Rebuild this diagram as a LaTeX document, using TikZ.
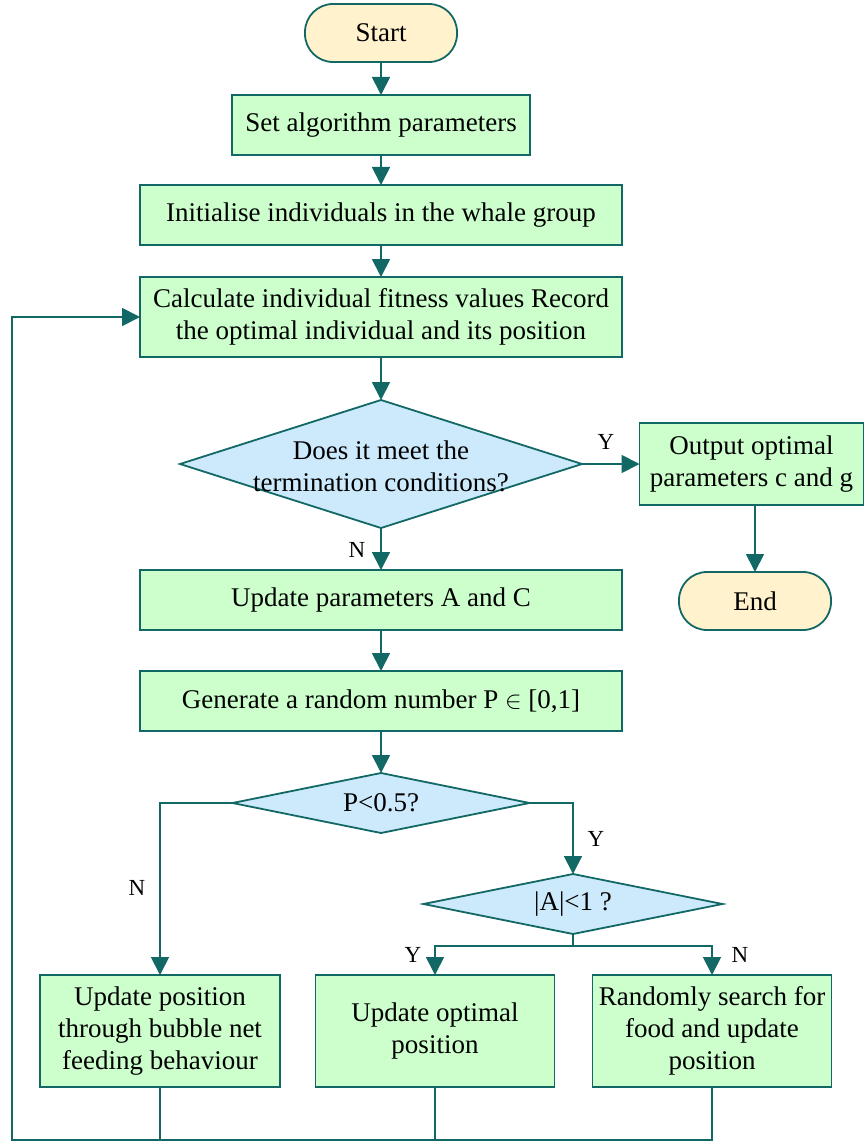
\documentclass[tikz,border=0pt]{standalone}
\usepackage{fontspec}
\setmainfont{Liberation Serif}
\usetikzlibrary{shapes.geometric,arrows.meta}
\definecolor{teal1}{RGB}{18,104,100}
\definecolor{boxgreen}{RGB}{204,255,204}
\definecolor{diablue}{RGB}{204,234,252}
\definecolor{termbeige}{RGB}{255,242,204}
\tikzset{
  base/.style={draw=teal1, line width=1.8pt, inner sep=0pt, outer sep=0pt, align=center, font=\fontsize{27}{32}\selectfont},
  procbox/.style={base, rectangle, fill=boxgreen},
  term/.style={base, rectangle, rounded corners=28pt, fill=termbeige, minimum width=152pt, minimum height=58pt},
  decide/.style={base, diamond, fill=diablue},
  dtext/.style={inner sep=0pt, align=center, font=\fontsize{27}{32}\selectfont},
  conn/.style={draw=teal1, line width=1.8pt},
  thin/.style={draw=teal1, line width=1.4pt},
  arr/.style={conn, -{Triangle[length=18pt,width=18pt]}},
  yn/.style={font=\fontsize{23}{26}\selectfont, inner sep=1pt}
}
\begin{document}
\begin{tikzpicture}[x=1pt,y=-1pt]
\useasboundingbox (0,0) rectangle (865,1142);
% nodes
\node[term] (start) at (381,33) {Start};
\node[procbox, minimum width=298pt, minimum height=60pt] (set) at (381,125) {Set algorithm parameters};
\node[procbox, minimum width=482pt, minimum height=60pt] (init) at (381,215) {Initialise individuals in the whale group};
\node[procbox, minimum width=482pt, minimum height=80pt] (calc) at (381,317) {Calculate individual fitness values Record\\the optimal individual and its position};
\node[decide, minimum width=402pt, minimum height=128pt] (d1) at (381,464) {};
\node[dtext] (d1t) at (381,466) {Does it meet the\\termination conditions?};
\node[procbox, minimum width=224pt, minimum height=82pt] (out) at (751.5,464) {Output optimal\\parameters c and g};
\node[term] (end) at (755,601) {End};
\node[procbox, minimum width=482pt, minimum height=60pt] (upd) at (381,600) {Update parameters A and C};
\node[procbox, minimum width=482pt, minimum height=60pt] (gen) at (381,701) {Generate a random number P $\in$ [0,1]};
\node[decide, minimum width=297pt, minimum height=60pt] (d2) at (381,803) {};
\node[dtext] (d2t) at (381,803) {P<0.5?};
\node[decide, minimum width=299pt, minimum height=60pt] (d3) at (573,904) {};
\node[dtext] (d3t) at (573,904) {|A|<1 ?};
\node[procbox, minimum width=240pt, minimum height=112pt] (b1) at (160,1031) {Update position\\through bubble net\\feeding behaviour};
\node[procbox, minimum width=239pt, minimum height=112pt] (b2) at (435,1031) {Update optimal\\position};
\node[procbox, minimum width=239pt, minimum height=112pt] (b3) at (712,1031) {Randomly search for\\food and update\\position};
\coordinate (j) at (573,946);
\coordinate (bot) at (12,1140);
% connectors
\draw[arr] (start) -- (set);
\draw[arr] (set) -- (init);
\draw[arr] (init) -- (calc);
\draw[arr] (calc) -- (d1.north);
\draw[arr] (d1.east) -- (out.west);
\draw[arr] (out.south -| end.north) -- (end.north);
\draw[arr] (d1.south) -- (upd);
\draw[arr] (upd) -- (gen);
\draw[arr] (gen) -- (d2.north);
\draw[arr] (d2.west) -| (b1.north);
\draw[arr] (d2.east) -| (d3.north);
\draw[conn] (d3.south) -- (j);
\draw[arr] (j) -| (b2.north);
\draw[arr] (j) -| (b3.north);
\draw[thin] (b1.south) -- (b1.south |- bot);
\draw[thin] (b2.south) -- (b2.south |- bot);
\draw[arr] (b3.south) |- (bot) |- (calc.west);
% labels
\node[yn] (ly1) at (606,442) {Y};
\node[yn] (ln1) at (357,550) {N};
\node[yn] (ly2) at (596,839) {Y};
\node[yn] (ln2) at (137,888) {N};
\node[yn] (ly3) at (413,955) {Y};
\node[yn] (ln3) at (740,955) {N};
\end{tikzpicture}
\end{document}
